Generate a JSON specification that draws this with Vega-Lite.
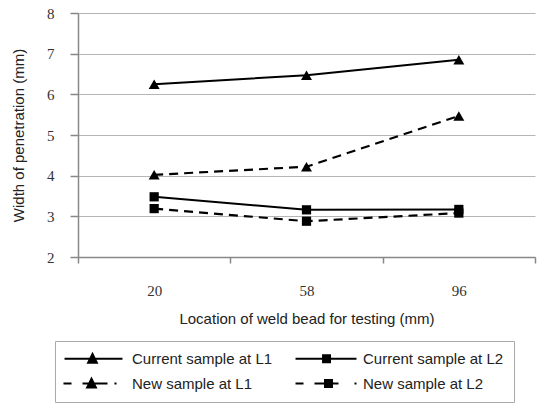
{
  "$schema": "https://vega.github.io/schema/vega-lite/v6.json",
  "autosize": {"type": "none"},
  "width": 457,
  "height": 244,
  "padding": {"left": 78, "top": 13, "right": 14, "bottom": 152},
  "background": "white",
  "config": {
    "view": {"stroke": null},
    "font": "Liberation Sans",
    "axis": {
      "titleFont": "Liberation Sans", "titleFontSize": 15, "titleFontWeight": "normal", "titleColor": "#222",
      "labelFont": "Liberation Serif", "labelFontSize": 15, "labelColor": "#333",
      "tickColor": "#888", "domainColor": "#888", "domainWidth": 1.5, "tickWidth": 1.5,
      "gridColor": "#b5b5b5", "gridWidth": 1.2
    },
    "axisX": {"titlePadding": 13, "labelPadding": 20, "tickSize": 6, "labelAngle": 0, "grid": false},
    "axisY": {"titlePadding": 20, "labelPadding": 16, "tickSize": 8, "grid": true},
    "legend": {
      "labelFont": "Liberation Sans", "labelFontSize": 15, "labelColor": "#222"
    }
  },
  "data": {
    "values": [
      {"series": "Current sample at L1", "location": "20", "value": 6.25},
      {"series": "Current sample at L1", "location": "58", "value": 6.47},
      {"series": "Current sample at L1", "location": "96", "value": 6.85},
      {"series": "Current sample at L2", "location": "20", "value": 3.48},
      {"series": "Current sample at L2", "location": "58", "value": 3.16},
      {"series": "Current sample at L2", "location": "96", "value": 3.17},
      {"series": "New sample at L1", "location": "20", "value": 4.02},
      {"series": "New sample at L1", "location": "58", "value": 4.22},
      {"series": "New sample at L1", "location": "96", "value": 5.47},
      {"series": "New sample at L2", "location": "20", "value": 3.19},
      {"series": "New sample at L2", "location": "58", "value": 2.88},
      {"series": "New sample at L2", "location": "96", "value": 3.08}
    ]
  },
  "encoding": {
    "x": {
      "field": "location", "type": "ordinal", "sort": ["20", "58", "96"],
      "scale": {"type": "band", "paddingInner": 0, "paddingOuter": 0},
      "axis": {"title": "Location of weld bead for testing (mm)", "tickBand": "extent"}
    },
    "y": {
      "field": "value", "type": "quantitative",
      "scale": {"domain": [2, 8], "nice": false, "zero": false},
      "axis": {"title": "Width of penetration (mm)", "values": [2, 3, 4, 5, 6, 7, 8]}
    }
  },
  "layer": [
    {
      "transform": [{"filter": {"field": "series", "oneOf": ["Current sample at L1", "Current sample at L2"]}}],
      "mark": {"type": "line", "color": "black", "strokeWidth": 2},
      "encoding": {"detail": {"field": "series"}}
    },
    {
      "transform": [{"filter": {"field": "series", "oneOf": ["New sample at L1", "New sample at L2"]}}],
      "mark": {"type": "line", "color": "black", "strokeWidth": 2.2, "strokeDash": [9, 6]},
      "encoding": {"detail": {"field": "series"}}
    },
    {
      "transform": [{"filter": {"field": "series", "oneOf": ["Current sample at L1", "New sample at L1"]}}],
      "mark": {"type": "point", "shape": "triangle-up", "filled": true, "color": "black", "opacity": 1, "size": 120}
    },
    {
      "transform": [{"filter": {"field": "series", "oneOf": ["Current sample at L2", "New sample at L2"]}}],
      "mark": {"type": "point", "shape": "square", "filled": true, "color": "black", "opacity": 1, "size": 85}
    },
    {
      "mark": {"type": "point", "filled": true, "color": "black", "fillOpacity": 0, "strokeOpacity": 0},
      "encoding": {
        "shape": {
          "field": "series", "type": "nominal",
          "scale": {
            "domain": ["Current sample at L1", "Current sample at L2", "New sample at L1", "New sample at L2"],
            "range": [
              "M-1.14,-0.15H7.14V0.15H-1.14ZM2,0.71L2.86,-1L3.71,0.71Z",
              "M-1.14,-0.15H7.57V0.15H-1.14ZM2.65,-0.64H3.93V0.64H2.65Z",
              "M-1.29,-0.15H-0.14V0.15H-1.29ZM1.43,-0.15H5V0.15H1.43ZM6,-0.15H6.29V0.15H6ZM1.86,0.71L2.71,-1L3.57,0.71Z",
              "M-1.14,-0.15H0V0.15H-1.14ZM1.57,-0.15H5V0.15H1.57ZM7.29,-0.15H7.57V0.15H7.29ZM2.93,-0.64H4.21V0.64H2.93Z"
            ]
          },
          "legend": {
            "title": null,
            "orient": "none",
            "legendX": -23,
            "legendY": 328,
            "direction": "horizontal",
            "columns": 2,
            "columnPadding": 22,
            "rowPadding": 9,
            "padding": 10,
            "strokeColor": "#aaa",
            "symbolSize": 196,
            "symbolOffset": 0,
            "symbolStrokeWidth": 0,
            "labelOffset": 52,
            "labelLimit": 400,
            "symbolFillColor": "black",
            "symbolOpacity": 1,
            "labelExpr": "(datum.label == 'Current sample at L2' || datum.label == 'New sample at L2') ? datum.label + '\u00a0\u00a0\u00a0\u00a0\u00a0\u00a0' : datum.label",
            "encode": {
              "legend": {
                "update": {
                  "strokeDash": {"value": [2, 2]}
                }
              },
              "symbols": {
                "update": {
                  "fill": {"value": "black"},
                  "stroke": {"value": "transparent"},
                  "strokeWidth": {"value": 0},
                  "fillOpacity": {"value": 1},
                  "opacity": {"value": 1}
                }
              }
            }
          }
        }
      }
    }
  ]
}
